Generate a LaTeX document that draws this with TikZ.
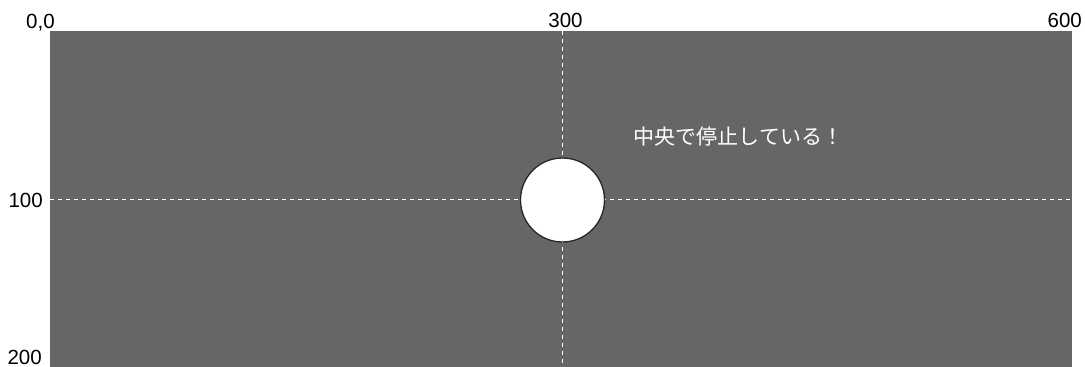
\documentclass[tikz,border=0pt]{standalone}
\usepackage{fontspec}
\setmainfont{Liberation Sans}
\newfontfamily\jpfont{Noto Sans CJK JP}
\begin{document}
\begin{tikzpicture}[x=1pt,y=-1pt,
  axislabel/.style={inner sep=0pt,font=\fontsize{20.5}{22}\selectfont,text=black},
  guide/.style={white,line width=1pt,dash pattern=on 4pt off 4pt},
  ball/.style={circle,draw=black!85,line width=1.3pt,fill=white,minimum size=84pt,inner sep=0pt}]
\useasboundingbox (0,0) rectangle (1085,367);
\fill[fill={rgb,255:red,102;green,102;blue,102}] (50,31) rectangle (1072,367);
% guide lines
\coordinate (vt) at (562.5,31);
\coordinate (vb) at (562.5,367);
\coordinate (hl) at (50,199);
\coordinate (hr) at (1072,199);
\draw[guide] (vt) -- (vb);
\draw[guide] (hl) -- (hr);
% ball
\node[ball] (ball) at (562.5,200) {};
% labels
\node[axislabel,anchor=base west] (l00) at (26,28) {0,0};
\node[axislabel,anchor=base] (l300) at (565.5,27) {300};
\node[axislabel,anchor=base east] (l600) at (1082,27) {600};
\node[axislabel,anchor=base east] (l100) at (43,207) {100};
\node[axislabel,anchor=base east] (l200) at (42,364.5) {200};
% message
\node[inner sep=0pt,text=white,font=\jpfont\fontsize{21}{23}\selectfont] (msg) at (738.5,137) {中央で停止している！};
\end{tikzpicture}
\end{document}
